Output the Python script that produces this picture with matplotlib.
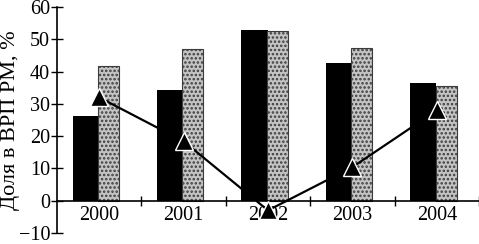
import matplotlib.pyplot as plt
import numpy as np

years = ["2000", "2001", "2002", "2003", "2004"]
dark_share = [26.3, 34.3, 53.0, 42.8, 36.4]
dotted_share = [41.6, 47.1, 52.5, 47.4, 35.5]
line_share = [32.0, 18.4, -3.0, 10.4, 28.0]

plt.rcParams["font.family"] = ["Liberation Serif", "DejaVu Serif"]
plt.rcParams["hatch.linewidth"] = 1.2

fig = plt.figure(figsize=(4.79, 2.44), dpi=100)
ax = fig.add_axes([57 / 479, 11 / 244, 1 - 57 / 479, 226 / 244])

x = np.arange(len(years))
ax.bar(x - 0.16, dark_share, width=0.31, color="black", zorder=2)
ax.bar(x + 0.11, dotted_share, width=0.25, color="#c4c4c4", edgecolor="#3c3c3c",
       hatch="....", linewidth=0.8, zorder=2)
ax.plot(x, line_share, color="black", linewidth=1.6, marker="^", markersize=13,
        markerfacecolor="black", markeredgecolor="white", markeredgewidth=1.0, zorder=3)

ax.set_xlim(-0.5, 4.5)
ax.set_ylim(-10, 60)
ax.set_yticks(range(-10, 61, 10))
ax.set_yticklabels([str(v).replace("-", "\u2212") for v in range(-10, 61, 10)])
ax.tick_params(axis="y", direction="inout", length=8, width=1, pad=1, labelsize=14.5)

ax.set_xticks(x)
ax.set_xticklabels(years)
ax.set_xticks(np.arange(0.5, 4.6, 1.0), minor=True)
ax.tick_params(axis="x", which="major", length=0, pad=4, labelsize=14.5)
ax.tick_params(axis="x", which="minor", direction="inout", length=7, width=1)

ax.spines["bottom"].set_position(("data", 0))
ax.spines["top"].set_visible(False)
ax.spines["right"].set_visible(False)
ax.spines["left"].set_linewidth(1.2)
ax.spines["bottom"].set_linewidth(1.2)

fig.text(11 / 479, 124 / 244, "Доля в ВРП РМ, %", fontsize=16, rotation=90,
         ha="center", va="center")

fig.savefig("out.png", dpi=100)
